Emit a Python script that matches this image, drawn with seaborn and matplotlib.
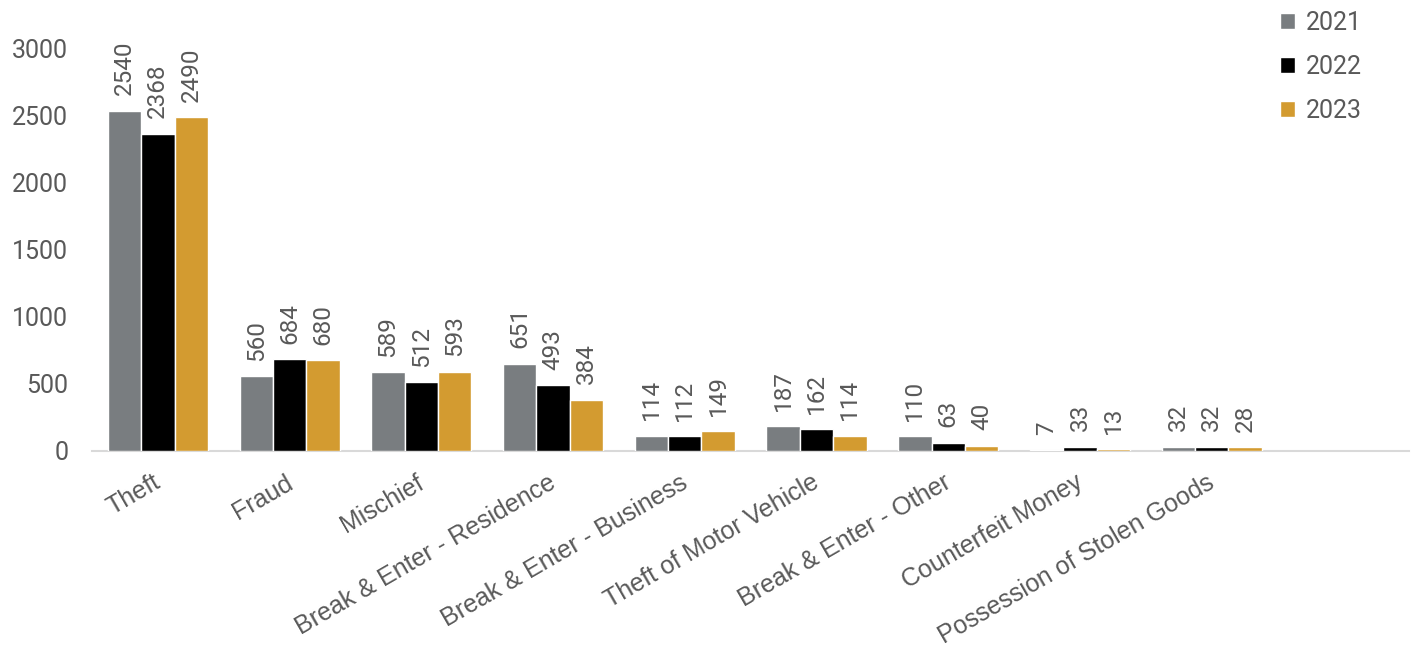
import pandas as pd
import matplotlib
matplotlib.use("Agg")
import matplotlib.pyplot as plt
import matplotlib.transforms as mtrans
import seaborn as sns

categories = ["Theft", "Fraud", "Mischief", "Break & Enter - Residence",
              "Break & Enter - Business", "Theft of Motor Vehicle",
              "Break & Enter - Other", "Counterfeit Money",
              "Possession of Stolen Goods"]
years = ["2021", "2022", "2023"]
v2021 = [2540, 560, 589, 651, 114, 187, 110, 7, 32]
v2022 = [2368, 684, 512, 493, 112, 162, 63, 33, 32]
v2023 = [2490, 680, 593, 384, 149, 114, 40, 13, 28]
colors = ["#797D80", "#000000", "#D39B30"]

df = pd.DataFrame({"category": categories * 3,
                   "year": [y for y in years for _ in categories],
                   "count": v2021 + v2022 + v2023})

sns.set_style("white")
plt.rcParams["font.family"] = ["Roboto", "DejaVu Sans"]
txt = "#595959"

fig = plt.figure(figsize=(14.15, 6.56), dpi=100)
ax = fig.add_axes([0.065, 0.3125, 0.931, 0.613])

sns.barplot(data=df, x="category", y="count", hue="year", order=categories,
            hue_order=years, palette=colors, width=0.76, saturation=1,
            errorbar=None, ax=ax, legend=True)

for cont in ax.containers:
    ax.bar_label(cont, rotation=90, padding=11, fontsize=17.5, color=txt)

ax.set_xlim(-0.5, 9.5)
ax.set_ylim(0, 3000)
ax.set_yticks(range(0, 3001, 500))
ax.set_xlabel("")
ax.set_ylabel("")
ax.tick_params(axis="y", labelsize=18, labelcolor=txt, length=0, pad=17)
ax.tick_params(axis="x", length=0, pad=14)
ax.set_xticks(range(len(categories)))
ax.set_xticklabels(categories, rotation=30, ha="right", rotation_mode="anchor",
                   fontsize=18, color=txt, family=["Liberation Sans", "DejaVu Sans"])
shift = mtrans.ScaledTranslation(-5 / 100, 0, fig.dpi_scale_trans)
for lab in ax.get_xticklabels():
    lab.set_transform(lab.get_transform() + shift)
for s in ["top", "right", "left"]:
    ax.spines[s].set_visible(False)
ax.spines["bottom"].set_color("#D9D9D9")
ax.spines["bottom"].set_linewidth(1.5)
ax.spines["bottom"].set_zorder(0)

handles, labels = ax.get_legend_handles_labels()
ax.get_legend().remove()
leg = fig.legend(handles, labels, loc="upper left", bbox_to_anchor=(0.889, 1.018),
                 frameon=False, fontsize=18, handlelength=0.6, handleheight=0.6,
                 handletextpad=0.4, labelspacing=0.8)
for t in leg.get_texts():
    t.set_color(txt)

fig.savefig("out.png", dpi=100)
